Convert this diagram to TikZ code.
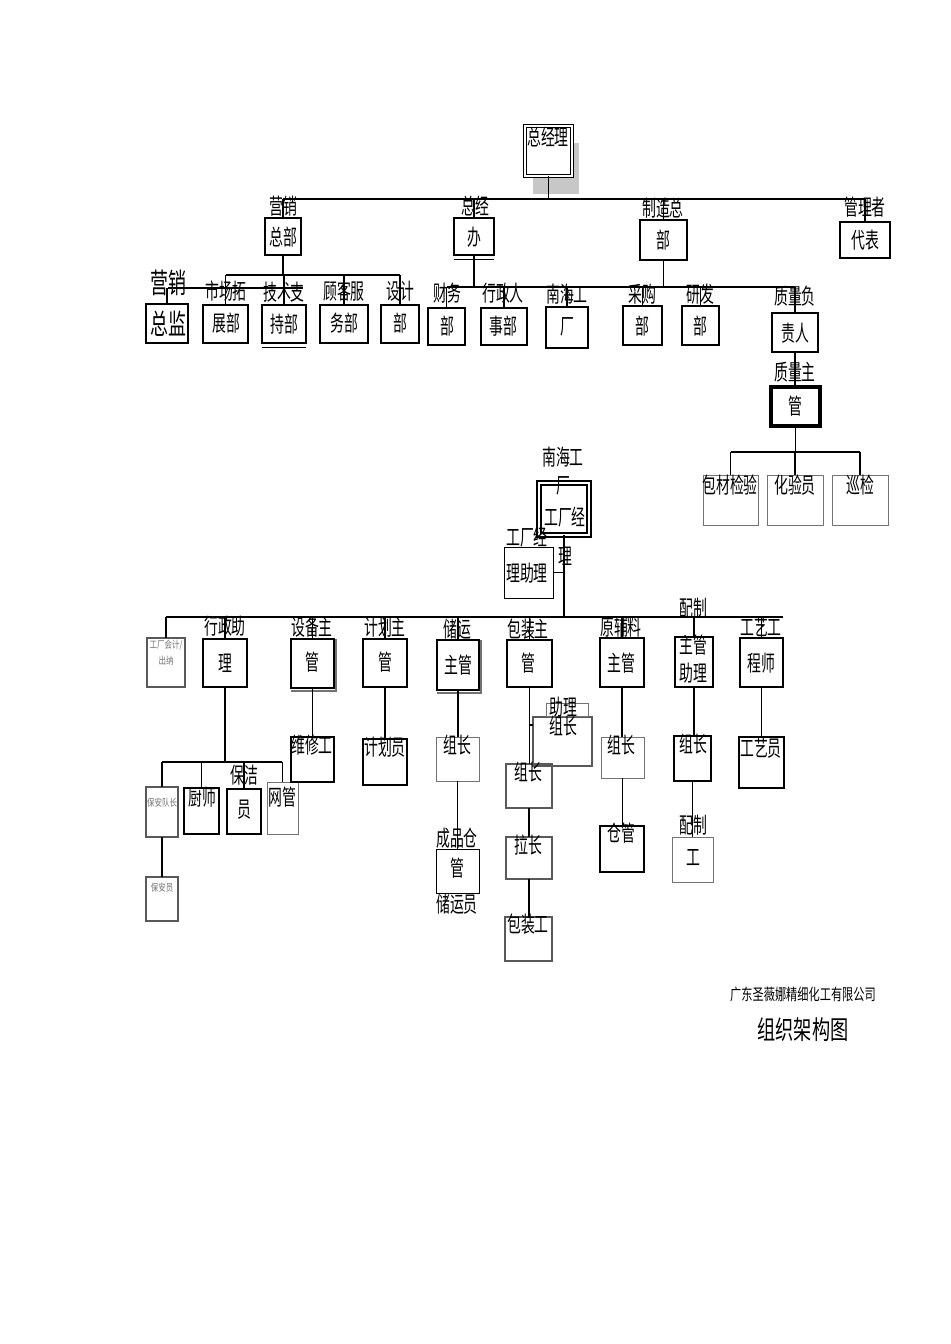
\documentclass[tikz,border=0pt]{standalone}
\usepackage{fontspec}
\newfontfamily\cjk[FakeStretch=0.63]{Noto Sans CJK SC}
\newfontfamily\cjkb[FakeStretch=0.64]{Noto Sans CJK SC}
\newfontfamily\cjkt[FakeStretch=0.70]{Noto Sans CJK SC}
\newfontfamily\cjks[FakeStretch=0.75]{Noto Sans CJK SC}
\newcommand\mkbox[6]{%
  \pgfmathsetmacro\bxcx{(#2+#4)/2}%
  \pgfmathsetmacro\bxcy{(#3+#5)/2}%
  \pgfmathsetmacro\bxw{(#4-#2)*0.5}%
  \pgfmathsetmacro\bxh{(#5-#3)*0.5}%
  \node[box,#6,minimum width=\bxw pt,minimum height=\bxh pt] (#1) at (\bxcx,\bxcy) {};}
\begin{document}
\begin{tikzpicture}[x=0.5pt,y=-0.5pt,
  box/.style={rectangle,inner sep=0pt,outer sep=0pt},
  thin/.style={draw=black,line width=0.5pt},
  med/.style={draw=black,line width=0.9pt},
  thk/.style={draw=black,line width=1.3pt},
  gry/.style={draw=black!55,line width=0.5pt},
  gmed/.style={draw=black!65,line width=0.8pt},
  dbl/.style={draw=black,double=white,double distance=0.9pt,line width=0.6pt},
  ln/.style={line width=0.7pt},
  bus/.style={line width=1.3pt},
  lab/.style={font=\cjk\fontsize{11}{11}\selectfont,inner sep=0pt},
  big/.style={font=\cjkb\fontsize{14}{14}\selectfont,inner sep=0pt},
  sml/.style={font=\cjks\fontsize{5}{5}\selectfont,inner sep=0pt,text=black!55},
]
\useasboundingbox (0,0) rectangle (950,1344);
\fill[white] (0,0) rectangle (950,1344);

% ---------- top ----------
\fill[black!22] (533,143) rectangle (579,194);
\mkbox{zjl}{525}{126}{572}{176}{dbl,fill=white}
\coordinate (b0L) at (283,199);
\coordinate (b0R) at (865,199);
\draw[ln] (zjl.south) -- (zjl.south |- b0L);
\draw[ln] (b0L) -- (b0R);

\mkbox{yxzb}{265}{218}{301}{255}{thk}
\mkbox{zjb}{454}{218}{494}{255}{med}
\mkbox{zzzb}{640}{220}{687}{260}{med}
\mkbox{glzdb}{840}{222}{890}{258}{thk}
\foreach \n in {yxzb,zjb,zzzb,glzdb} \draw[ln] (\n.north |- b0L) -- (\n.north);

% marketing
\coordinate (b1L) at (226,275);
\coordinate (b1R) at (400,275);
\coordinate (b2L) at (168,288);
\coordinate (b2R) at (303,288);
\mkbox{yxzj}{146}{304}{188}{343}{thk}
\mkbox{scbz}{203}{305}{248}{343}{med}
\mkbox{jszc}{262}{305}{306}{343}{med}
\mkbox{gkfw}{320}{305}{368}{343}{med}
\mkbox{sjb}{381}{305}{419}{343}{med}
\draw[ln] (yxzb.south) -- (yxzb.south |- b1L);
\draw[ln] (b1L) -- (b1R);
\foreach \n in {scbz,jszc,gkfw,sjb} \draw[ln] (\n.north |- b1L) -- (\n.north);
\draw[ln] (b2L) -- (b2R);
\draw[ln] (yxzj.north |- b2L) -- (yxzj.north);
\draw[line width=0.4pt] ([yshift=-2pt]jszc.south west) -- ([yshift=-2pt]jszc.south east);

% admin
\coordinate (b3L) at (447,287);
\mkbox{cwb}{428}{308}{465}{345}{med}
\mkbox{xzrs}{481}{308}{527}{345}{med}
\draw[ln] (zjb.south) -- (zjb.south |- b3L);
\draw[ln] (b3L) -- (xzrs.north |- b3L);
\foreach \n in {cwb,xzrs} \draw[ln] (\n.north |- b3L) -- (\n.north);
\draw[line width=0.4pt] ([yshift=-2pt]zjb.south west) -- ([yshift=-2pt]zjb.south east);

% manufacturing
\coordinate (b4R) at (795,287);
\mkbox{nhgc}{546}{307}{588}{348}{thk}
\mkbox{cgb}{623}{306}{662}{345}{thk}
\mkbox{yfb}{682}{306}{719}{345}{thk}
\mkbox{zlfz}{772}{313}{818}{352}{med}
\mkbox{zlzg}{771}{387}{820}{426}{draw=black,line width=1.7pt}
\draw[ln] (zzzb.south) -- (zzzb.south |- b4R);
\draw[bus] (xzrs.north |- b4R) -- (b4R);
\foreach \n in {nhgc,cgb,yfb,zlfz} \draw[ln] (\n.north |- b4R) -- (\n.north);
\draw[ln] (zlfz.south) -- (zlfz.south |- zlzg.north);

% quality
\coordinate (b5L) at (731,452);
\coordinate (b5R) at (860,452);
\mkbox{bcjy}{703}{475}{758}{525}{gry}
\mkbox{hyy}{767}{475}{823}{525}{gry}
\mkbox{xj}{832}{475}{888}{525}{gry}
\draw[ln] (zlzg.south) -- (zlzg.south |- b5L);
\draw[ln] (b5L) -- (b5R);
\foreach \n in {bcjy,hyy,xj} \draw[ln] (\n.north |- b5L) -- (\n.north);

% labels top part
\node[lab] (t01) at (548,137) {总经理};
\node[lab] (t02) at (283,206) {营销};
\node[lab] (t03) at (283,237) {总部};
\node[lab] (t04) at (475,206) {总经};
\node[lab] (t05) at (474,237) {办};
\node[lab] (t06) at (663,208) {制造总};
\node[lab] (t07) at (663,240) {部};
\node[lab] (t08) at (865,207) {管理者};
\node[lab] (t09) at (865,240) {代表};
\node[big] (t10) at (168,283) {营销};
\node[big] (t11) at (168,324) {总监};
\node[lab] (t12) at (226,291) {市场拓};
\node[lab] (t13) at (226,323) {展部};
\node[lab] (t14) at (284,292) {技术支};
\node[lab] (t15) at (284,324) {持部};
\node[lab] (t16) at (344,291) {顾客服};
\node[lab] (t17) at (344,323) {务部};
\node[lab] (t18) at (400,291) {设计};
\node[lab] (t19) at (400,323) {部};
\node[lab] (t20) at (447,293) {财务};
\node[lab] (t21) at (447,326) {部};
\node[lab] (t22) at (503,293) {行政人};
\node[lab] (t23) at (503,326) {事部};
\node[lab] (t24) at (567,294) {南海工};
\node[lab] (t25) at (567,327) {厂};
\node[lab] (t26) at (642,294) {采购};
\node[lab] (t27) at (642,326) {部};
\node[lab] (t28) at (700,294) {研发};
\node[lab] (t29) at (700,326) {部};
\node[lab] (t30) at (795,296) {质量负};
\node[lab] (t31) at (795,333) {责人};
\node[lab] (t32) at (795,372) {质量主};
\node[lab] (t33) at (795,406) {管};
\node[lab] (t34) at (730,485) {包材检验};
\node[lab] (t35) at (795,485) {化验员};
\node[lab] (t36) at (860,485) {巡检};

% ---------- factory tree ----------
\mkbox{nhjl}{539}{483}{589}{535}{dbl,line width=0.9pt}
\mkbox{gczl}{504}{547}{553}{598}{thin}
\coordinate (b6L) at (166,617);
\coordinate (b6R) at (783,617);
\draw[bus] (nhjl.south) -- (nhjl.south |- b6L);
\draw[ln] (gczl.east) -- (gczl.east -| nhjl.south);
\draw[bus] (b6L) -- (b6R);

\mkbox{kj}{147}{638}{185}{687}{gmed}
\mkbox{xzzl}{203}{639}{247}{687}{thk}
\mkbox{sbzg}{291}{639}{334}{688}{thk}
\mkbox{jhzg}{363}{639}{407}{687}{thk}
\mkbox{cyzg}{437}{640}{479}{690}{thk}
\mkbox{bzzg}{507}{640}{552}{687}{thk}
\mkbox{yflzg}{600}{638}{644}{687}{thk}
\mkbox{pzzl}{675}{637}{713}{687}{thk}
\mkbox{gygcs}{740}{638}{783}{687}{thk}
\draw[black!55,line width=1pt] ([yshift=-1.3pt]sbzg.south west) -- ([yshift=-1.3pt,xshift=1pt]sbzg.south east) -- ([xshift=1pt]sbzg.north east);
\draw[black!55,line width=1pt] ([yshift=-1.3pt]cyzg.south west) -- ([yshift=-1.3pt,xshift=1pt]cyzg.south east) -- ([xshift=1pt]cyzg.north east);
\draw[ln] (b6L) -- (kj.north);
\foreach \n in {xzzl,sbzg,jhzg,cyzg,bzzg,yflzg,pzzl,gygcs} \draw[ln] (\n.north |- b6L) -- (\n.north);

% admin assistant subtree
\coordinate (b7L) at (162,762);
\coordinate (b7R) at (282,762);
\mkbox{badz}{146}{787}{178}{837}{gmed}
\mkbox{cs}{184}{788}{219}{834}{med}
\mkbox{bjy}{227}{789}{261}{834}{med}
\mkbox{wg}{267}{782}{298}{834}{gry}
\mkbox{bay}{146}{877}{178}{921}{gmed}
\draw[ln] (xzzl.south) -- (xzzl.south |- b7L);
\draw[ln] (b7L) -- (b7R);
\foreach \n in {badz,cs,bjy,wg} \draw[ln] (\n.north |- b7L) -- (\n.north);
\draw[ln] (badz.south) -- (bay.north);

% other subtrees
\mkbox{wxg}{291}{737}{334}{782}{med}
\mkbox{jhy}{363}{739}{407}{785}{med}
\mkbox{cyzz}{436}{737}{479}{781}{gry}
\mkbox{cpcg}{436}{849}{479}{893}{thin}
\draw[ln] (sbzg.south) -- (sbzg.south |- wxg.north);
\draw[ln] (jhzg.south) -- (jhzg.south |- jhy.north);
\draw[ln] (cyzg.south) -- (cyzg.south |- cyzz.north);
\draw[ln] (cyzz.south) -- (cyzz.south |- cpcg.north);

\mkbox{zlzz}{533}{717}{592}{766}{gmed}
\mkbox{zlzt}{546}{703}{588}{716}{gry}
\mkbox{bzzz}{506}{764}{552}{808}{gmed}
\mkbox{lz}{506}{837}{552}{879}{gmed}
\mkbox{bzg}{505}{917}{552}{961}{gmed}
\coordinate (tk) at (529,725);
\draw[ln] (bzzg.south) -- (bzzg.south |- bzzz.north);
\draw[ln] (tk) -- (tk -| zlzz.west);
\draw[ln] (bzzz.south) -- (bzzz.south |- lz.north);
\draw[ln] (lz.south) -- (lz.south |- bzg.north);

\mkbox{yflzz}{601}{737}{644}{778}{gry}
\mkbox{cg}{600}{826}{644}{872}{med}
\mkbox{pzzz}{674}{736}{711}{781}{med}
\mkbox{pzg}{672}{837}{713}{882}{gry}
\mkbox{gyy}{739}{737}{784}{788}{med}
\draw[ln] (yflzg.south) -- (yflzg.south |- yflzz.north);
\draw[ln] (yflzz.south) -- (yflzz.south |- cg.north);
\draw[ln] (pzzl.south) -- (pzzl.south |- pzzz.north);
\draw[ln] (pzzz.south) -- (pzzz.south |- pzg.north);
\draw[ln] (gygcs.south) -- (gygcs.south |- gyy.north);

% labels factory part
\node[lab] (u01) at (563,457) {南海工};
\node[lab] (u02) at (563,486) {厂};
\node[lab] (u03) at (565,517) {工厂经};
\node[lab] (u04) at (565,556) {理};
\node[lab] (u05) at (527,537) {工厂经};
\node[lab] (u06) at (527,573) {理助理};
\node[sml] (u07) at (166,645) {工厂会计/};
\node[sml] (u08) at (166,661) {出纳};
\node[lab] (u09) at (225,626) {行政助};
\node[lab] (u10) at (225,663) {理};
\node[lab] (u11) at (312,627) {设备主};
\node[lab] (u12) at (312,662) {管};
\node[lab] (u13) at (385,627) {计划主};
\node[lab] (u14) at (385,662) {管};
\node[lab] (u15) at (457,629) {储运};
\node[lab] (u16) at (458,665) {主管};
\node[lab] (u17) at (528,629) {包装主};
\node[lab] (u18) at (528,663) {管};
\node[lab] (u19) at (621,627) {原辅料};
\node[lab] (u20) at (621,663) {主管};
\node[lab] (u21) at (693,608) {配制};
\node[lab] (u22) at (693,645) {主管};
\node[lab] (u23) at (693,673) {助理};
\node[lab] (u24) at (761,627) {工艺工};
\node[lab] (u25) at (761,663) {程师};
\node[sml] (u26) at (162,803) {保安队长};
\node[lab] (u27) at (202,797) {厨师};
\node[lab] (u28) at (244,775) {保洁};
\node[lab] (u29) at (244,810) {员};
\node[lab] (u30) at (282,797) {网管};
\node[sml] (u31) at (162,888) {保安员};
\node[lab] (u32) at (312,745) {维修工};
\node[lab] (u33) at (385,747) {计划员};
\node[lab] (u34) at (457,745) {组长};
\node[lab] (u35) at (457,838) {成品仓};
\node[lab] (u36) at (457,868) {管};
\node[lab] (u37) at (457,904) {储运员};
\node[lab] (u38) at (563,707) {助理};
\node[lab] (u39) at (563,726) {组长};
\node[lab] (u40) at (528,772) {组长};
\node[lab] (u41) at (528,845) {拉长};
\node[lab] (u42) at (528,924) {包装工};
\node[lab] (u43) at (621,745) {组长};
\node[lab] (u44) at (621,833) {仓管};
\node[lab] (u45) at (693,744) {组长};
\node[lab] (u46) at (693,825) {配制};
\node[lab] (u47) at (693,858) {工};
\node[lab] (u48) at (761,748) {工艺员};

% company
\node[font=\cjkt\fontsize{8}{8}\selectfont,inner sep=0pt] (c1) at (803,994) {广东圣薇娜精细化工有限公司};
\node[font=\cjkt\fontsize{13}{13}\selectfont,inner sep=0pt] (c2) at (803,1030) {组织架构图};
\end{tikzpicture}
\end{document}
